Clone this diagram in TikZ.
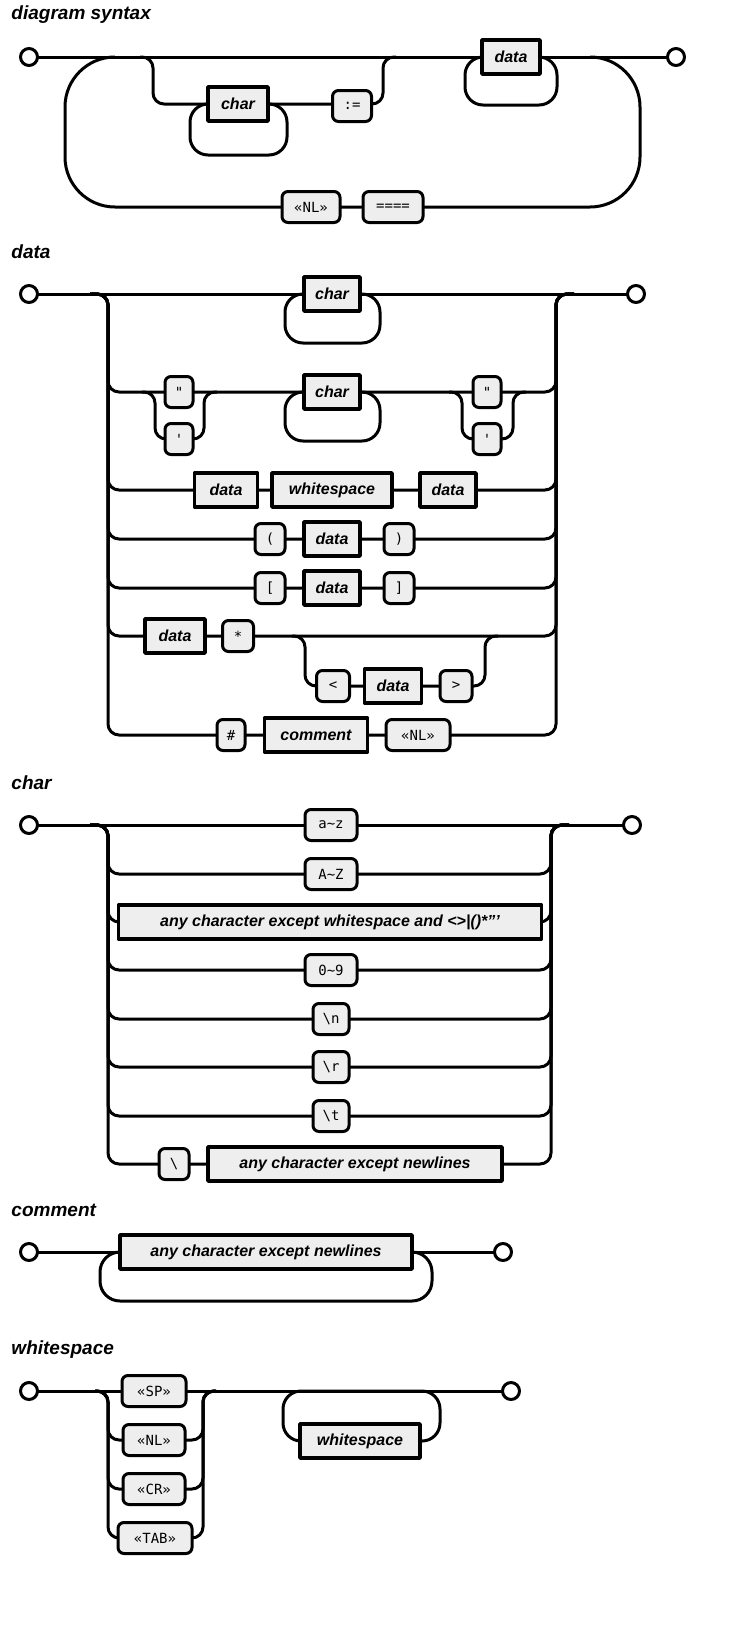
\documentclass[tikz,border=0pt]{standalone}
\usepackage{fontspec}
\setmainfont{Liberation Sans}
\newfontfamily\monof{DejaVu Sans Mono}
\definecolor{boxgray}{HTML}{EEEEEE}
\newcommand{\ntf}{\fontsize{16}{18}\selectfont\bfseries\itshape}
\newcommand{\tmf}{\fontsize{14}{16}\selectfont\monof}
\newcommand{\ttlf}{\fontsize{19}{22}\selectfont\bfseries\itshape}
\begin{document}
\begin{tikzpicture}[x=1pt,y=-1pt,line width=3pt,line join=round,
  nt/.style={draw,line width=3.5pt,fill=boxgray,minimum height=34,inner sep=3,font=\ntf},
  tm/.style={draw,rounded corners=6,line width=3pt,fill=boxgray,minimum height=31,minimum width=30,inner sep=3,font=\tmf},
  endpt/.style={circle,draw,line width=3pt,fill=white,minimum size=17,inner sep=0},
  ttl/.style={anchor=west,font=\ttlf,inner sep=0},
  rr/.style={rounded corners=11},
  big/.style={rounded corners=50}]
% ===== diagram syntax
\node[ttl] (t1) at (10,15) {diagram syntax};
\draw[big] (115,57)--(65,57)--(65,207)--(640,207)--(640,57)--(590,57);
\draw (29,57)--(676,57);
\draw[rr] (140,57)--(153,57)--(153,104)--(383,104)--(383,57)--(396,57);
\draw[rounded corners=18] (190,104) rectangle (287,155);
\draw[rounded corners=18] (465,57) rectangle (557,105);
\node[endpt] (s1) at (29,57) {};
\node[endpt] (e1) at (676,57) {};
\node[nt,minimum width=60] (c1) at (238,104) {char};
\node[tm,minimum width=39] (as) at (352,106) {:=};
\node[nt,minimum width=58] (d1) at (511,57) {data};
\node[tm,minimum width=58] (nl1) at (311,207) {«NL»};
\node[tm,minimum width=60] (eq) at (393,207) {====};
% ===== data
\node[ttl] (t2) at (10,252) {data};
\draw (29,294)--(636,294);
\foreach \y in {392,490,539,588,636,735}
  \draw[rr] (90,294)--(108,294)--(108,\y)--(556,\y)--(556,294)--(574,294);
\draw[rounded corners=18] (285,294) rectangle (380,343);
\draw[rounded corners=18] (285,392) rectangle (380,441);
\draw[rr] (142,392)--(155,392)--(155,439)--(204,439)--(204,392)--(217,392);
\draw[rr] (449,392)--(462,392)--(462,439)--(513,439)--(513,392)--(526,392);
\draw[rr] (292,636)--(305,636)--(305,686)--(485,686)--(485,636)--(498,636);
\node[endpt] (s2) at (29,294) {};
\node[endpt] (e2) at (636,294) {};
\node[nt,minimum width=56] (c2) at (332,294) {char};
\node[tm,minimum width=28] (q1) at (179,392) {"};
\node[tm,minimum width=28] (a1) at (179,439) {\textquotesingle};
\node[nt,minimum width=56] (c3) at (332,392) {char};
\node[tm,minimum width=28] (q2) at (487,392) {"};
\node[tm,minimum width=28] (a2) at (487,439) {\textquotesingle};
\node[nt,minimum width=63] (d2) at (226,490) {data};
\node[nt,minimum width=120] (w1) at (332,490) {whitespace};
\node[nt,minimum width=56] (d3) at (448,490) {data};
\node[tm] (lp) at (270,539) {(};
\node[nt,minimum width=56] (d4) at (332,539) {data};
\node[tm] (rp) at (399,539) {)};
\node[tm] (lb) at (270,588) {[};
\node[nt,minimum width=56] (d5) at (332,588) {data};
\node[tm] (rb) at (399,588) {]};
\node[nt,minimum width=60] (d6) at (175,636) {data};
\node[tm,minimum width=31] (st) at (238,636) {*};
\node[tm,minimum width=33] (lt) at (333,686) {<};
\node[nt,minimum width=57] (d7) at (393,686) {data};
\node[tm,minimum width=32] (gt) at (456,686) {>};
\node[tm,minimum width=28] (hs) at (231,735) {\#};
\node[nt,minimum width=103] (cm) at (316,735) {comment};
\node[tm,minimum width=64] (nl2) at (418,735) {«NL»};
% ===== char
\node[ttl] (t3) at (10,783) {char};
\draw (29,825)--(632,825);
\foreach \y in {874,922,970,1019,1067,1116,1164}
  \draw[rr] (90,825)--(108,825)--(108,\y)--(551,\y)--(551,825)--(569,825);
\node[endpt] (s3) at (29,825) {};
\node[endpt] (e3) at (632,825) {};
\node[tm,minimum width=52] (az) at (331,825) {a\textasciitilde z};
\node[tm,minimum width=52] (AZ) at (331,874) {A\textasciitilde Z};
\node[nt,minimum width=423] (ac) at (330,922) {any character except whitespace and <>|()*"'};
\node[tm,minimum width=52] (nn) at (331,970) {0\textasciitilde 9};
\node[tm,minimum width=36] (bn) at (331,1019) {\textbackslash n};
\node[tm,minimum width=36] (br) at (331,1067) {\textbackslash r};
\node[tm,minimum width=36] (bt) at (331,1116) {\textbackslash t};
\node[tm,minimum width=30] (bs) at (174,1164) {\textbackslash};
\node[nt,minimum width=294] (an) at (355,1164) {any character except newlines};
% ===== comment
\node[ttl] (t4) at (10,1210) {comment};
\draw[rounded corners=20] (100,1252) rectangle (432,1301);
\draw (29,1252)--(503,1252);
\node[endpt] (s4) at (29,1252) {};
\node[endpt] (e4) at (503,1252) {};
\node[nt,minimum width=292] (an2) at (266,1252) {any character except newlines};
% ===== whitespace
\node[ttl] (t5) at (10,1350) {whitespace};
\draw (29,1391)--(511,1391);
\foreach \y in {1440,1489,1538}
  \draw[rr] (95,1391)--(108,1391)--(108,\y)--(203,\y)--(203,1391)--(216,1391);
\draw[rounded corners=18] (283,1391) rectangle (440,1441);
\node[endpt] (s5) at (29,1391) {};
\node[endpt] (e5) at (511,1391) {};
\node[tm,minimum width=64] (sp) at (154,1391) {«SP»};
\node[tm,minimum width=62] (nl3) at (154,1440) {«NL»};
\node[tm,minimum width=62] (cr) at (154,1489) {«CR»};
\node[tm,minimum width=74] (tab) at (155,1538) {«TAB»};
\node[nt,minimum width=120] (w2) at (360,1441) {whitespace};
\pgfresetboundingbox
\useasboundingbox (0,0) rectangle (730,1633);
\end{tikzpicture}
\end{document}
